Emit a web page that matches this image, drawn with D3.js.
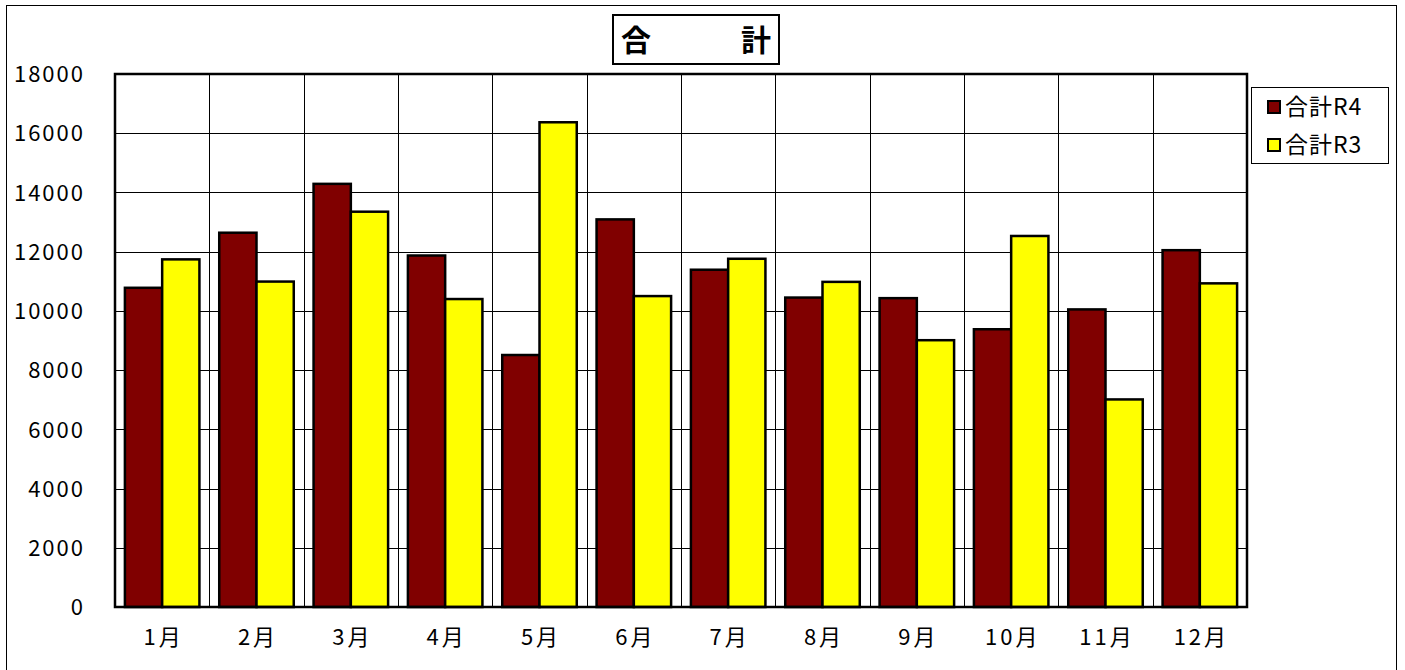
<!DOCTYPE html>
<html><head><meta charset="utf-8">
<script src="https://cdn.jsdelivr.net/npm/d3@7/dist/d3.min.js"></script>
<style>body{margin:0;background:#fff}svg{display:block}</style>
</head><body>
<svg id="c" width="1405" height="670"></svg>
<script>
const months = ["1月","2月","3月","4月","5月","6月","7月","8月","9月","10月","11月","12月"];
const seriesNames = ["合計R4","合計R3"];
const seriesColors = ["#800000","#ffff00"];
const valuesR4 = [10780,12640,14290,11870,8510,13090,11390,10450,10430,9380,10050,12050];
const valuesR3 = [11740,10990,13350,10400,16370,10500,11760,10980,9010,12530,7010,10930];
const yTicks = [0,2000,4000,6000,8000,10000,12000,14000,16000,18000];
const titleText = "合　　　計";

const svg = d3.select("#c");
const font = "'Noto Sans CJK JP', sans-serif";
const L = 115, R = 1247, T = 74, B = 607;

// outer border
svg.append("rect").attr("x",6.5).attr("y",5.5).attr("width",1390).attr("height",700)
  .attr("fill","none").attr("stroke","#000").attr("stroke-width",1);

const x0 = d3.scaleBand().domain(months).range([L,R]).padding(0);
const bw = x0.bandwidth();
const pad = bw*0.105;
const x1 = d3.scaleBand().domain(seriesNames).range([pad,bw-pad]).padding(0);
const y = d3.scaleLinear().domain([0,18000]).range([B,T]);

// gridlines
const g = svg.append("g");
g.selectAll("line.h").data(yTicks).join("line")
  .attr("x1",L).attr("x2",R).attr("y1",d=>Math.round(y(d))+0.5).attr("y2",d=>Math.round(y(d))+0.5)
  .attr("stroke","#000").attr("stroke-width",1);
g.selectAll("line.v").data(months.slice(1)).join("line")
  .attr("x1",d=>Math.round(x0(d))+0.5).attr("x2",d=>Math.round(x0(d))+0.5).attr("y1",T).attr("y2",B)
  .attr("stroke","#000").attr("stroke-width",1);

// bars
const data = months.map((m,i)=>({m, vals:[valuesR4[i],valuesR3[i]]}));
const groups = svg.append("g").selectAll("g").data(data).join("g")
  .attr("transform",d=>`translate(${x0(d.m)},0)`);
groups.selectAll("rect").data(d=>d.vals.map((v,j)=>({v,s:seriesNames[j],c:seriesColors[j]}))).join("rect")
  .attr("x",d=>x1(d.s)).attr("width",x1.bandwidth())
  .attr("y",d=>y(d.v)).attr("height",d=>y(0)-y(d.v))
  .attr("fill",d=>d.c).attr("stroke","#000").attr("stroke-width",2.5);

// plot frame
svg.append("rect").attr("x",L).attr("y",T).attr("width",R-L).attr("height",B-T)
  .attr("fill","none").attr("stroke","#000").attr("stroke-width",2.5);

// y axis labels
const yAxis = d3.axisLeft(y).tickValues(yTicks).tickSize(0).tickPadding(30).tickFormat(d3.format("d"));
const ya = svg.append("g").attr("transform",`translate(${L},0)`).call(yAxis);
ya.select(".domain").remove();
ya.selectAll("text").attr("font-family",font).attr("font-size",22).attr("letter-spacing","2px")
  .attr("fill","#000").attr("dy","0.35em");

// x axis labels
const xAxis = d3.axisBottom(x0).tickSize(0).tickPadding(22);
const xa = svg.append("g").attr("transform",`translate(1.5,${B})`).call(xAxis);
xa.select(".domain").remove();
xa.selectAll("text").attr("font-family",font).attr("font-size",22).attr("letter-spacing","3px")
  .attr("fill","#000");

// title
svg.append("rect").attr("x",613).attr("y",15).attr("width",166).attr("height",49)
  .attr("fill","#fff").attr("stroke","#000").attr("stroke-width",2);
svg.append("text").attr("x",696).attr("y",40).attr("dy","0.36em").attr("text-anchor","middle")
  .attr("font-family",font).attr("font-size",30).attr("font-weight","bold").text(titleText);

// legend
const lg = svg.append("g");
lg.append("rect").attr("x",1251.5).attr("y",87.5).attr("width",137).attr("height",76)
  .attr("fill","#fff").attr("stroke","#000").attr("stroke-width",1);
seriesNames.forEach((s,i)=>{
  const cy = 107 + i*38;
  lg.append("rect").attr("x",1268).attr("y",cy-6).attr("width",12).attr("height",12)
    .attr("fill",seriesColors[i]).attr("stroke","#000").attr("stroke-width",2);
  lg.append("text").attr("x",1285).attr("y",cy).attr("dy","0.36em")
    .attr("font-family",font).attr("font-size",23).attr("letter-spacing","1px").text(s);
});
</script>
</body></html>
